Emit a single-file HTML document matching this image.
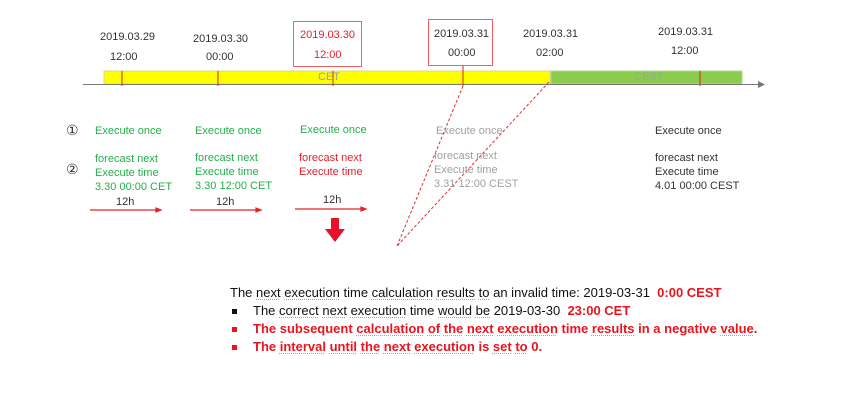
<!DOCTYPE html>
<html><head><style>
body{margin:0;width:850px;height:400px;background:#fff;position:relative;font-family:"Liberation Sans",sans-serif;overflow:hidden}
.t{position:absolute;font-size:11px;line-height:13px;white-space:nowrap}
.g{color:#22b04a}.r{color:#e8202a}.gr{color:#a0a0a0}.k{color:#333}
.b{position:absolute;font-size:13px;line-height:16px;white-space:nowrap;color:#111}
.u{text-decoration:underline dotted #e88;text-decoration-thickness:1px;text-underline-offset:2px}
.red{color:#e8141e;font-weight:bold}
.sq{position:absolute;width:5px;height:5px}
</style></head><body>
<svg width="850" height="400" style="position:absolute;left:0;top:0">
<rect x="104" y="71" width="446" height="13" fill="#ffff00" stroke="#d8d890" stroke-width="1"/>
<rect x="551" y="71" width="191" height="13" fill="#8ccc4c" stroke="#b0d890" stroke-width="1"/>
<line x1="83" y1="84.5" x2="758" y2="84.5" stroke="#777" stroke-width="1"/>
<polygon points="758,81 765,84.5 758,88" fill="#777"/>
<g stroke="#e02020" stroke-width="1">
<line x1="122" y1="71" x2="122" y2="86"/><line x1="218" y1="71" x2="218" y2="86"/>
<line x1="333" y1="71" x2="333" y2="86"/><line x1="463" y1="66" x2="463" y2="86"/>
<line x1="700" y1="71" x2="700" y2="86"/>
</g>
<rect x="293.5" y="21.5" width="68" height="45" fill="none" stroke="#f06060"/>
<rect x="428.5" y="19.5" width="64" height="46" fill="none" stroke="#f06060"/>
<g stroke="#e03030" stroke-width="1" stroke-dasharray="3,2" fill="none">
<line x1="463" y1="86" x2="397" y2="246"/><line x1="549" y1="82" x2="397" y2="246"/>
</g>
<g stroke="#e8202a" stroke-width="1.2" fill="#e8202a">
<line x1="90" y1="210" x2="158" y2="210"/><polygon points="156,208 161,210 156,212"/>
<line x1="190" y1="210" x2="258" y2="210"/><polygon points="256,208 261,210 256,212"/>
<line x1="295" y1="209" x2="363" y2="209"/><polygon points="361,207 366,209 361,211"/>
</g>
<polygon points="331,218 339,218 339,229 345,229 335,242 325,229 331,229" fill="#e8102a"/>
</svg>
<div class="t k" style="left:100px;top:31px">2019.03.29</div>
<div class="t k" style="left:110px;top:51px">12:00</div>
<div class="t k" style="left:193px;top:33px">2019.03.30</div>
<div class="t k" style="left:206px;top:51px">00:00</div>
<div class="t r" style="left:300px;top:29px">2019.03.30</div>
<div class="t r" style="left:314px;top:49px">12:00</div>
<div class="t k" style="left:434px;top:28px">2019.03.31</div>
<div class="t k" style="left:448px;top:47px">00:00</div>
<div class="t k" style="left:523px;top:28px">2019.03.31</div>
<div class="t k" style="left:536px;top:47px">02:00</div>
<div class="t k" style="left:658px;top:26px">2019.03.31</div>
<div class="t k" style="left:671px;top:45px">12:00</div>
<div class="t gr" style="left:318px;top:71px">CET</div>
<div class="t gr" style="left:634px;top:71px">CEST</div>
<div class="t k" style="left:66px;top:124px;font-size:14px">①</div>
<div class="t k" style="left:66px;top:163px;font-size:14px">②</div>
<div class="t g" style="left:95px;top:125px">Execute once</div>
<div class="t g" style="left:195px;top:125px">Execute once</div>
<div class="t g" style="left:300px;top:124px">Execute once</div>
<div class="t gr" style="left:436px;top:125px">Execute once</div>
<div class="t k" style="left:655px;top:125px">Execute once</div>
<div class="t g" style="left:95px;top:152px;line-height:14px">forecast next<br>Execute time<br>3.30 00:00 CET</div>
<div class="t g" style="left:195px;top:151px;line-height:14px">forecast next<br>Execute time<br>3.30 12:00 CET</div>
<div class="t r" style="left:299px;top:151px;line-height:14px">forecast next<br>Execute time</div>
<div class="t gr" style="left:434px;top:149px;line-height:14px">forecast next<br>Execute time<br>3.31 12:00 CEST</div>
<div class="t k" style="left:655px;top:151px;line-height:14px">forecast next<br>Execute time<br>4.01 00:00 CEST</div>
<div class="t k" style="left:116px;top:196px">12h</div>
<div class="t k" style="left:216px;top:196px">12h</div>
<div class="t k" style="left:323px;top:194px">12h</div>
<div class="b" style="left:230px;top:285px">The <span class="u">next</span> <span class="u">execution</span> time <span class="u">calculation</span> <span class="u">results</span> <span class="u">to</span> an invalid time: 2019-03-31 &nbsp;<span class="red">0:00 CEST</span></div>
<div class="sq" style="left:232px;top:309px;background:#111"></div>
<div class="b" style="left:253px;top:303px">The <span class="u">correct</span> <span class="u">next</span> <span class="u">execution</span> time <span class="u">would</span> <span class="u">be</span> 2019-03-30 &nbsp;<span class="red">23:00 CET</span></div>
<div class="sq" style="left:232px;top:327px;background:#e8141e"></div>
<div class="b red" style="left:253px;top:321px">The subsequent <span class="u">calculation</span> <span class="u">of</span> <span class="u">the</span> <span class="u">next</span> <span class="u">execution</span> time <span class="u">results</span> in a negative <span class="u">value</span>.</div>
<div class="sq" style="left:232px;top:345px;background:#e8141e"></div>
<div class="b red" style="left:253px;top:339px">The <span class="u">interval</span> <span class="u">until</span> <span class="u">the</span> <span class="u">next</span> <span class="u">execution</span> is <span class="u">set</span> <span class="u">to</span> 0.</div>
</body></html>
